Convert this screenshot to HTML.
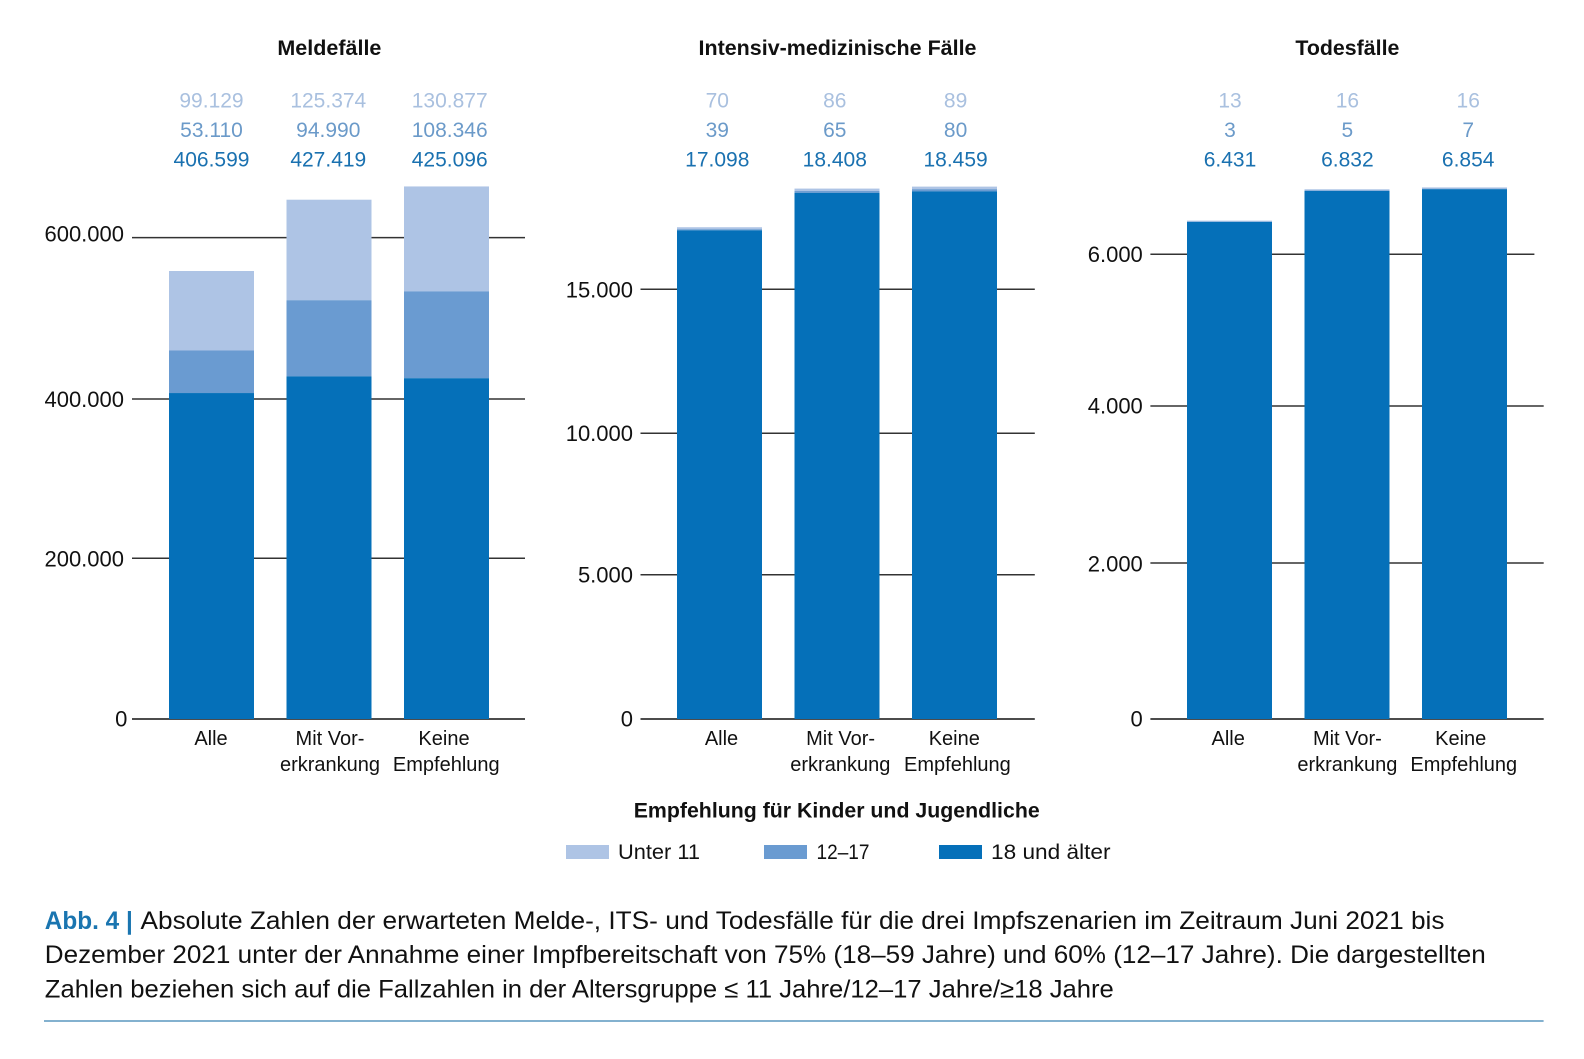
<!DOCTYPE html>
<html lang="de">
<head>
<meta charset="utf-8">
<title>Absolute Zahlen der erwarteten Melde-, ITS- und Todesfälle</title>
<style>
  html, body { margin: 0; padding: 0; background: #fff; }
  svg { display: block; font-family: "Liberation Sans", sans-serif; }
  text { fill: #111; }
</style>
</head>
<body>
<svg id="figure" xmlns="http://www.w3.org/2000/svg" width="1584" height="1059" viewBox="0 0 1584 1059">
  <rect width="1584" height="1059" fill="#ffffff"/>

  <text x="329.4" y="55" text-anchor="middle" font-size="21.5" font-weight="700" textLength="104" lengthAdjust="spacingAndGlyphs">Meldefälle</text>
  <text x="837.5" y="55" text-anchor="middle" font-size="21.5" font-weight="700" textLength="278" lengthAdjust="spacingAndGlyphs">Intensiv-medizinische Fälle</text>
  <text x="1347.4" y="55" text-anchor="middle" font-size="21.5" font-weight="700" textLength="104" lengthAdjust="spacingAndGlyphs">Todesfälle</text>

  <g id="chart-melde"></g>
  <g id="chart-its"></g>
  <g id="chart-tod"></g>

  <g>
    <text x="836.7" y="817.5" text-anchor="middle" font-size="21.5" font-weight="700" textLength="406" lengthAdjust="spacingAndGlyphs">Empfehlung für Kinder und Jugendliche</text>
    <rect x="566" y="845" width="43" height="14" fill="#aec4e5"/>
    <text x="618" y="859" font-size="21.5" textLength="82" lengthAdjust="spacingAndGlyphs">Unter 11</text>
    <rect x="764" y="845" width="43" height="14" fill="#6a9bd1"/>
    <text x="816.5" y="859" font-size="21.5" textLength="53" lengthAdjust="spacingAndGlyphs">12–17</text>
    <rect x="939" y="845" width="43" height="14" fill="#0570b9"/>
    <text x="991" y="859" font-size="21.5" textLength="119.5" lengthAdjust="spacingAndGlyphs">18 und älter</text>
  </g>

  <g>
    <text x="44.8" y="929" font-size="25" font-weight="700" style="fill:#1a75b0" textLength="88" lengthAdjust="spacingAndGlyphs">Abb. 4 |</text>
    <text x="140.5" y="929" font-size="25" textLength="1304" lengthAdjust="spacingAndGlyphs">Absolute Zahlen der erwarteten Melde-, ITS- und Todesfälle für die drei Impfszenarien im Zeitraum Juni 2021 bis</text>
    <text x="44.8" y="963" font-size="25" textLength="1441" lengthAdjust="spacingAndGlyphs">Dezember 2021 unter der Annahme einer Impfbereitschaft von 75% (18–59 Jahre) und 60% (12–17 Jahre). Die dargestellten</text>
    <text x="44.8" y="997.3" font-size="25" textLength="1069" lengthAdjust="spacingAndGlyphs">Zahlen beziehen sich auf die Fallzahlen in der Altersgruppe ≤ 11 Jahre/12–17 Jahre/≥18 Jahre</text>
    <line x1="44" x2="1543.6" y1="1021" y2="1021" stroke="#5a97bf" stroke-width="1.4"/>
  </g>

  <script>
    const categoryLines = [['Alle'], ['Mit Vor-', 'erkrankung'], ['Keine', 'Empfehlung']];

    const meldeUnter11 = [99129, 125374, 130877];
    const melde12bis17 = [53110, 94990, 108346];
    const melde18plus = [406599, 427419, 425096];
    const meldeTicks = [0, 200000, 400000, 600000];
    const meldeTickLabels = ['0', '200.000', '400.000', '600.000'];

    const itsUnter11 = [70, 86, 89];
    const its12bis17 = [39, 65, 80];
    const its18plus = [17098, 18408, 18459];
    const itsTicks = [0, 5000, 10000, 15000];
    const itsTickLabels = ['0', '5.000', '10.000', '15.000'];

    const todUnter11 = [13, 16, 16];
    const tod12bis17 = [3, 5, 7];
    const tod18plus = [6431, 6832, 6854];
    const todTicks = [0, 2000, 4000, 6000];
    const todTickLabels = ['0', '2.000', '4.000', '6.000'];

    const SVG_NS = 'http://www.w3.org/2000/svg';
    const BASELINE = 719;
    const STEP = 117.5;
    const BAR_W = 85;

    function make(parent, tag, attrs, content) {
      const node = document.createElementNS(SVG_NS, tag);
      Object.keys(attrs).forEach(function (k) { node.setAttribute(k, attrs[k]); });
      if (content !== undefined) node.textContent = content;
      parent.appendChild(node);
      return node;
    }

    function formatValue(v) {
      return String(v).replace(/\B(?=(\d{3})+(?!\d))/g, '.');
    }

    function drawChart(opts) {
      const root = document.getElementById(opts.id);
      const yScale = function (v) { return BASELINE - v * opts.pxPerUnit; };
      const xScale = function (i) { return opts.barLeft + i * STEP; };

      opts.ticks.forEach(function (t, i) {
        const isTop = i === opts.ticks.length - 1;
        const nudge = (opts.lineNudge && opts.lineNudge[i]) || 0;
        const y = yScale(t) + nudge;
        const line = make(root, 'line', {
          x1: opts.axisLeft,
          x2: isTop && opts.topLineEnd ? opts.topLineEnd : opts.axisRight,
          y1: y, y2: y,
          stroke: i === 0 ? '#111' : '#333',
          'stroke-width': 1.5
        });
        
        
        const labelNudge = (opts.labelNudge && opts.labelNudge[i]) || 0;
        const lbl = make(root, 'text', {
          x: i === 0 ? opts.zeroRight : opts.tickRight,
          y: y + 8 + labelNudge,
          'text-anchor': 'end',
          'font-size': 22
        }, opts.tickLabels[i]);
        
        
      });

      categoryLines.forEach(function (lines, i) {
        const x = xScale(i);
        const base = opts.dark[i];
        const mid = base + opts.mid[i];
        const top = mid + opts.light[i];

        const rLight = make(root, 'rect', { x: x, y: yScale(top), width: BAR_W, height: yScale(mid) - yScale(top), fill: '#aec4e5' });
        
        

        const rMid = make(root, 'rect', { x: x, y: yScale(mid), width: BAR_W, height: yScale(base) - yScale(mid), fill: '#6a9bd1' });
        
        

        const rDark = make(root, 'rect', { x: x, y: yScale(base), width: BAR_W, height: yScale(0) - yScale(base), fill: '#0570b9' });
        
        

        const vLight = make(root, 'text', { x: opts.valueX[i], y: 107.7, 'text-anchor': 'middle', 'font-size': 21, style: 'fill:#a9c0df' }, formatValue(opts.light[i]));
        
        

        const vMid = make(root, 'text', { x: opts.valueX[i], y: 137, 'text-anchor': 'middle', 'font-size': 21, style: 'fill:#6b9ac9' }, formatValue(opts.mid[i]));
        
        

        const vDark = make(root, 'text', { x: opts.valueX[i], y: 166.7, 'text-anchor': 'middle', 'font-size': 21, style: 'fill:#1a71b0' }, formatValue(opts.dark[i]));
        
        

        lines.forEach(function (text, j) {
          const cat = make(root, 'text', { x: opts.catX[i][j], y: 745 + j * 26, 'text-anchor': 'middle', 'font-size': 20 }, text);
          
          
        });
      });
    }

    drawChart({
      id: 'chart-melde', light: meldeUnter11, mid: melde12bis17, dark: melde18plus,
      ticks: meldeTicks, tickLabels: meldeTickLabels, pxPerUnit: 160.33 / 200000,
      axisLeft: 132, axisRight: 525, tickRight: 124, zeroRight: 127.4, barLeft: 169,
      lineNudge: [0, -0.4, 0.7, -0.4], labelNudge: [-0.3, 0.4, 0, -3.9],
      valueX: [211.5, 328.3, 449.7],
      catX: [[211], [330, 330], [444, 446.3]]
    });

    drawChart({
      id: 'chart-its', light: itsUnter11, mid: its12bis17, dark: its18plus,
      ticks: itsTicks, tickLabels: itsTickLabels, pxPerUnit: 142.9 / 5000,
      axisLeft: 640.5, axisRight: 1034.8, tickRight: 633, zeroRight: 633, barLeft: 677,
      lineNudge: [0, -1.4, 0, -1], labelNudge: [-0.3, -0.4, -0.2, 0],
      valueX: [717.3, 834.8, 955.6],
      catX: [[721.5], [840.6, 840.3], [954.3, 957.4]]
    });

    drawChart({
      id: 'chart-tod', light: todUnter11, mid: tod12bis17, dark: tod18plus,
      ticks: todTicks, tickLabels: todTickLabels, pxPerUnit: 154.6 / 2000,
      axisLeft: 1150.4, axisRight: 1543.7, topLineEnd: 1534.4, tickRight: 1142.8, zeroRight: 1142.8, barLeft: 1187,
      lineNudge: [0, -1.4, -3.8, -1], labelNudge: [-0.3, 0.7, -0.3, 0],
      valueX: [1230, 1347.4, 1468.2],
      catX: [[1228.2], [1347.4, 1347.4], [1460.7, 1463.8]]
    });
  </script>
</svg>
</body>
</html>
